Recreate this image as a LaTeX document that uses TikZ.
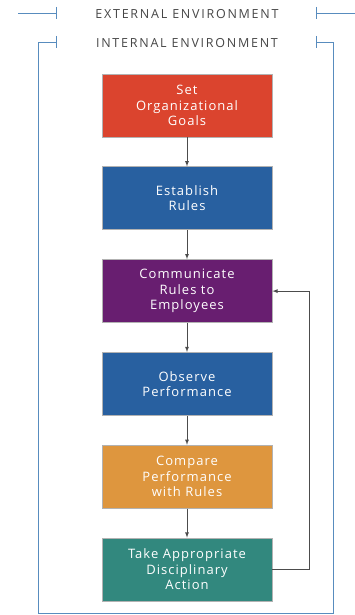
\documentclass[tikz,border=0pt]{standalone}
\usepackage{fontspec}
\setmainfont{Open Sans}[LetterSpace=8]
\newfontfamily\envfont{Open Sans}[LetterSpace=14]
\usetikzlibrary{positioning,arrows}

\definecolor{goalred}{RGB}{219,68,46}
\definecolor{ruleblue}{RGB}{40,96,160}
\definecolor{commpurple}{RGB}{104,30,112}
\definecolor{compareorange}{RGB}{222,150,62}
\definecolor{actteal}{RGB}{50,136,126}
\definecolor{envblue}{RGB}{88,140,190}
\definecolor{envgray}{RGB}{70,70,70}

\begin{document}
\begin{tikzpicture}[x=1pt, y=-1pt, node distance=29pt,
  stage/.style = {shape=rectangle, draw=gray!60, line width=0.8pt,
    minimum width=170pt, minimum height=63pt, inner sep=0pt,
    align=center, text=white,
    font=\fontsize{13}{15.5}\selectfont},
  envtext/.style = {text=envgray, font=\envfont\fontsize{12.5}{14}\selectfont},
  frame/.style = {draw=envblue, line width=0.9pt},
  flow/.style = {draw=gray!60!black, line width=0.8pt, -latex}]
  \useasboundingbox (0,0) rectangle (355,615);

  % environment labels and frames
  \node[envtext] (external) at (187,14) {EXTERNAL ENVIRONMENT};
  \node[envtext] (internal) at (187,43) {INTERNAL ENVIRONMENT};
  \draw[frame] (18,13) -- (56,13) (56,7) -- (56,19);
  \draw[frame] (316,7) -- (316,19) (316,13) -- (355,13);
  \draw[frame] (56,36) -- (56,48) (316,36) -- (316,48);
  \draw[frame] (56,42) -- (38,42) -- (38,613) -- (333,613) -- (333,42) -- (316,42);

  % the steps
  \node[stage, fill=goalred] (goals) at (187,105.5) {Set\\Organizational\\Goals};
  \node[stage, fill=ruleblue, below=of goals] (rules) {Establish\\Rules};
  \node[stage, fill=commpurple, below=of rules] (comm) {Communicate\\Rules to\\Employees};
  \node[stage, fill=ruleblue, below=of comm] (observe) {Observe\\Performance};
  \node[stage, fill=compareorange, below=of observe] (compare) {Compare\\Performance\\with Rules};
  \node[stage, fill=actteal, below=of compare] (act) {Take Appropriate\\Disciplinary\\Action};

  \draw[flow] (goals) -- (rules);
  \draw[flow] (rules) -- (comm);
  \draw[flow] (comm) -- (observe);
  \draw[flow] (observe) -- (compare);
  \draw[flow] (compare) -- (act);
  \draw[flow] (act.east) -- ++(37,0) |- (comm.east);
\end{tikzpicture}
\end{document}
